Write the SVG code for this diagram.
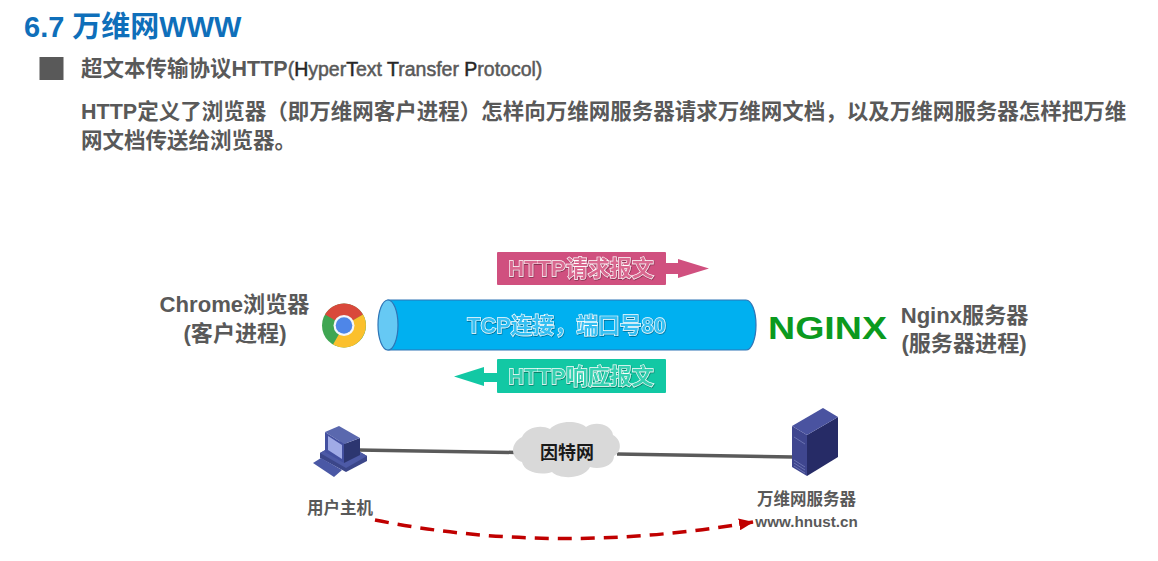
<svg xmlns="http://www.w3.org/2000/svg" width="1158" height="561" viewBox="0 0 1158 561">
<defs>
<style>
text{font-family:"Liberation Sans","Noto Sans CJK SC",sans-serif;font-weight:700;fill:#595959}
.c{text-anchor:middle}
.out{stroke:#fff;stroke-width:1.300;paint-order:stroke}
.body{font-size:21.5px}
.lab{font-size:22.100px}
.small{font-size:16.5px}
.link{stroke:#5a5a5a;stroke-width:3.5;fill:none}
.dk{fill:#262626;stroke:#262626}
</style>
<filter id="sh" x="-10%" y="-30%" width="120%" height="160%"><feDropShadow dx="0.5" dy="0.7" stdDeviation="0.6" flood-color="#000" flood-opacity="0.5"/></filter>
<marker id="ah" markerWidth="4.200" markerHeight="3.400" refX="4" refY="1.700" orient="auto"><path d="M0 0L4.200 1.700L0 3.400z" fill="#c00000"/></marker>
</defs>
<rect width="1158" height="561" fill="#fff"/>
<g id="heading">
<text x="24" y="37" style="font-size:29px;fill:#0f6fba">6.7 万维网WWW</text>
<rect x="39.500" y="57" width="24" height="23" fill="#595959"/>
<text x="81" y="76" style="font-size:21.5px">超文本传输协议HTTP<tspan style="font-size:19.500px;font-weight:400;stroke:#595959;stroke-width:.5">(<tspan class="dk">H</tspan>yper<tspan class="dk">T</tspan>ext <tspan class="dk">T</tspan>ransfer <tspan class="dk">P</tspan>rotocol)</tspan></text>
<text class="body" x="81" y="119">HTTP定义了浏览器（即万维网客户进程）怎样向万维网服务器请求万维网文档，以及万维网服务器怎样把万维</text>
<text class="body" x="81" y="148">网文档传送给浏览器。</text>
</g>
<g id="connectors">
<path class="link" d="M358 450L516 452.500"/>
<path class="link" d="M617 454L793 457"/>
<path d="M375 520Q555 556 753 522" fill="none" stroke="#c00000" stroke-width="3.500" stroke-dasharray="14 9" marker-end="url(#ah)"/>
</g>
<g id="request">
<path d="M660 263H678V259L709 268.500L678 278V274H660z" fill="#d0507f"/>
<rect x="497" y="252" width="169" height="33" rx="1" fill="#d0507f"/>
<text class="c out" x="581" y="276" style="font-size:22px;fill:#d9678f" filter="url(#sh)">HTTP请求报文</text>
</g>
<g id="tcp">
<path d="M388 300H746A10 25 0 0 1 746 350H388z" fill="#00b0f0" stroke="#2e75b6" stroke-width="1.200"/>
<ellipse cx="388" cy="325" rx="10" ry="25" fill="#66c9f4" stroke="#2e75b6" stroke-width="1.200"/>
<text class="c out" x="566.500" y="333" style="font-size:21.800px;fill:#35bff2" filter="url(#sh)">TCP连接，端口号80</text>
</g>
<g id="response">
<path d="M505 373H484V367L454 376.500L484 386V382H505z" fill="#12c8a4"/>
<rect x="497" y="359" width="169" height="34" rx="1" fill="#12c8a4"/>
<text class="c out" x="581" y="384" style="font-size:22px;fill:#35d0b0" filter="url(#sh)">HTTP响应报文</text>
</g>
<g id="chrome-label">
<text class="c lab" x="234.500" y="311.500">Chrome浏览器</text>
<text class="c lab" x="235" y="340.500">(客户进程)</text>
</g>
<g id="chrome-icon">
<circle cx="344" cy="325.500" r="22" fill="#3fa652"/>
<path d="M344 325.500L325 314.500A22 22 0 0 1 363 314.500z" fill="#d9483b"/>
<path d="M344 325.500L363 314.500A22 22 0 0 1 333 344.500z" fill="#fbc02d"/>
<circle cx="344" cy="325.500" r="10.500" fill="#f4f7fb"/>
<circle cx="344" cy="325.500" r="8.300" fill="#4e86e8"/>
</g>
<g id="nginx-logo">
<text x="768" y="339" textLength="119" lengthAdjust="spacingAndGlyphs" style="font-size:32px;fill:#0b9a1e">NGINX</text>
</g>
<g id="nginx-label">
<text class="c lab" x="964.500" y="322.500">Nginx服务器</text>
<text class="c lab" x="964" y="351">(服务器进程)</text>
</g>
<g id="pc">
<path d="M320 453L341 441L367 456V461L346 472L320 458z" fill="#3b4689"/>
<path d="M320 453L341 441L367 456L346 468z" fill="#4d5aa6"/>
<path d="M313 463L321 458L342 470L334 477z" fill="#4a58a5"/>
<path d="M344 444L360 438V455L344 463z" fill="#2c3670"/>
<path d="M325 432L339 426L360 438L344 444z" fill="#5a68ae"/>
<path d="M325 432L344 444V463L325 452z" fill="#4350a0"/>
<path d="M328 436L342 445V459L328 450z" fill="#a0abe6"/>
</g>
<g id="internet">
<path d="M522 437C526 428 540 424 550 429C558 420 578 420 586 427C596 420 612 425 613 435C622 440 622 452 614 456C614 466 600 470 590 467C584 479 560 480 552 472C540 476 524 472 522 462C510 458 510 443 522 437z" fill="#d9d9d9"/>
<text class="c" x="567" y="458.500" style="font-size:18px;fill:#1a1a1a">因特网</text>
</g>
<g id="server">
<path d="M792 426L807 435V476L792 467z" fill="#3f468f"/>
<path d="M807 435L838 417V457L807 476z" fill="#262b66"/>
<path d="M792 426L823 408L838 417L807 435z" fill="#4a53a0"/>
<path d="M794 460L805 467M794 463L805 470M794 466L805 473M794 437L805 444" stroke="#6a72b0" stroke-width="1"/>
</g>
<g id="pc-label"><text class="c small" x="340" y="514">用户主机</text></g>
<g id="server-label">
<text class="c small" x="806.500" y="505">万维网服务器</text>
<text class="c" x="806.500" y="527" style="font-size:15.200px">www.hnust.cn</text>
</g>
</svg>
